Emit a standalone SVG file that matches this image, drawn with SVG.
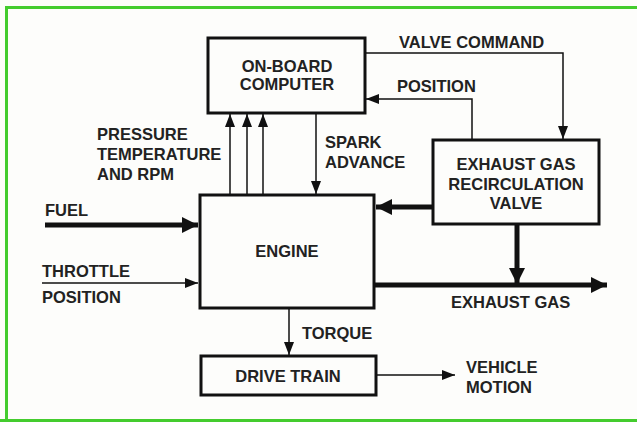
<svg xmlns="http://www.w3.org/2000/svg" width="637" height="422" viewBox="0 0 637 422">
<defs>
<style>
.t{font-family:"Liberation Sans",Arial,sans-serif;font-weight:bold;font-size:16.5px;fill:#222;}
.c{text-anchor:middle;}
.box{fill:#fdfdfb;stroke:#111;stroke-width:3;}
.thin{fill:none;stroke:#111;stroke-width:1.5;}
.thick{fill:none;stroke:#111;stroke-width:5;}
</style>
<marker id="a" viewBox="0 0 13 10" refX="13" refY="5" markerWidth="13" markerHeight="10" markerUnits="userSpaceOnUse" orient="auto"><path d="M0,0 L13,5 L0,10 z" fill="#111"/></marker>
<marker id="ab" viewBox="0 0 16 16" refX="16" refY="8" markerWidth="16" markerHeight="16" markerUnits="userSpaceOnUse" orient="auto"><path d="M0,0 L16,8 L0,16 z" fill="#111"/></marker>
</defs>
<rect width="637" height="422" fill="#fdfdfb"/>
<path d="M6.5,422 V7.5 H637" fill="none" stroke="#44cc2e" stroke-width="3"/>
<line x1="0" y1="420.5" x2="637" y2="420.5" stroke="#44cc2e" stroke-width="3"/>

<g id="connectors">
<line class="thin" x1="230" y1="194" x2="230" y2="114" marker-end="url(#a)"/>
<line class="thin" x1="247" y1="194" x2="247" y2="114" marker-end="url(#a)"/>
<line class="thin" x1="263" y1="194" x2="263" y2="114" marker-end="url(#a)"/>
<line class="thin" x1="316" y1="114" x2="316" y2="194" marker-end="url(#a)"/>
<polyline class="thin" points="366,53 563,53 563,139" marker-end="url(#a)"/>
<polyline class="thin" points="472,139 472,99 366,99" marker-end="url(#a)"/>
<line class="thick" x1="432" y1="207" x2="376" y2="207" marker-end="url(#ab)"/>
<line class="thick" x1="517" y1="225" x2="517" y2="284" marker-end="url(#ab)"/>
<line class="thick" x1="375" y1="285" x2="607" y2="285" marker-end="url(#ab)"/>
<line class="thick" x1="45" y1="225" x2="198" y2="225" marker-end="url(#ab)"/>
<line class="thin" x1="42" y1="283" x2="198" y2="283" marker-end="url(#a)"/>
<line class="thin" x1="289" y1="309" x2="289" y2="355" marker-end="url(#a)"/>
<line class="thin" x1="377" y1="375" x2="455" y2="375" marker-end="url(#a)"/>
</g>

<g id="computer">
<rect class="box" x="208" y="38" width="157" height="75"/>
<text class="t c" x="287" y="72">ON-BOARD</text>
<text class="t c" x="287" y="90">COMPUTER</text>
</g>
<g id="engine">
<rect class="box" x="200" y="195" width="174" height="113"/>
<text class="t c" x="287" y="257">ENGINE</text>
</g>
<g id="egr">
<rect class="box" x="433" y="140" width="166" height="84"/>
<text class="t c" x="516" y="170">EXHAUST GAS</text>
<text class="t c" x="516" y="190">RECIRCULATION</text>
<text class="t c" x="516" y="209">VALVE</text>
</g>
<g id="drivetrain">
<rect class="box" x="201" y="356" width="175" height="39"/>
<text class="t c" x="288" y="382">DRIVE TRAIN</text>
</g>

<g id="labels">
<text class="t" x="97" y="140">PRESSURE</text>
<text class="t" x="97" y="160">TEMPERATURE</text>
<text class="t" x="97" y="180">AND RPM</text>
<text class="t" x="325" y="148">SPARK</text>
<text class="t" x="325" y="168">ADVANCE</text>
<text class="t" x="399" y="48">VALVE COMMAND</text>
<text class="t" x="397" y="92">POSITION</text>
<text class="t" x="45" y="216">FUEL</text>
<text class="t" x="42" y="277">THROTTLE</text>
<text class="t" x="42" y="303">POSITION</text>
<text class="t" x="451" y="308">EXHAUST GAS</text>
<text class="t" x="302" y="339">TORQUE</text>
<text class="t" x="466" y="373">VEHICLE</text>
<text class="t" x="466" y="393">MOTION</text>
</g>
</svg>
